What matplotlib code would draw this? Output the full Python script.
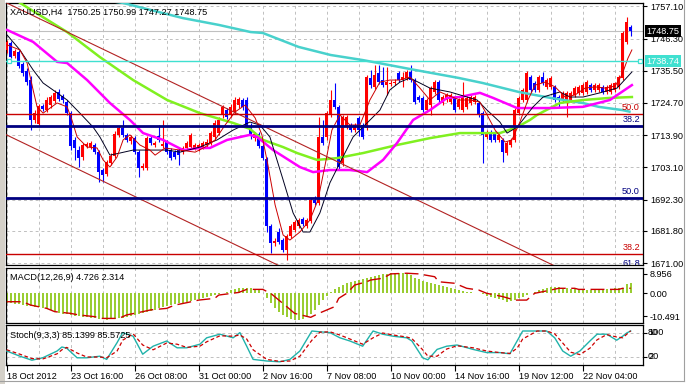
import matplotlib
matplotlib.use('Agg')
import matplotlib.pyplot as plt
from matplotlib.transforms import blended_transform_factory as btf
from matplotlib.lines import Line2D
from matplotlib.patches import Rectangle

plt.rcParams['font.family'] = ['Liberation Sans', 'DejaVu Sans']
FS = 6.6

# ---------------- data ----------------
title = 'XAUUSD,H4  1750.25 1750.99 1747.27 1748.75'
macd_title = 'MACD(12,26,9) 4.726 2.314'
stoch_title = 'Stoch(9,3,3) 85.1399 85.5725'

opens = [1742.5, 1744.8, 1740.5, 1741.8, 1737.8, 1735.4, 1732.4, 1719.0, 1717.7, 1723.7,
         1722.3, 1724.0, 1725.4, 1728.4, 1727.0, 1725.0, 1721.3, 1712.3, 1708.9, 1706.6,
         1710.3, 1709.9, 1710.6, 1708.2, 1702.2, 1700.9, 1704.6, 1706.9, 1714.0, 1716.3,
         1714.0, 1711.9, 1713.0, 1708.2, 1702.9, 1702.9, 1713.0, 1710.6, 1713.6, 1710.3,
         1711.6, 1708.9, 1708.2, 1708.9, 1708.2, 1709.6, 1709.9, 1709.6, 1709.6, 1709.9,
         1710.6, 1711.3, 1713.3, 1714.6, 1720.7, 1722.3, 1720.7, 1721.7, 1724.0, 1725.7,
         1725.7, 1717.0, 1712.9, 1714.3, 1710.3, 1705.9, 1683.4, 1677.7, 1681.4, 1678.7,
         1675.4, 1680.1, 1682.1, 1683.4, 1685.8, 1683.4, 1685.1, 1692.1, 1691.1, 1713.3,
         1713.3, 1720.7, 1725.7, 1723.4, 1704.6, 1716.6, 1717.3, 1715.6, 1719.7, 1717.3,
         1716.3, 1733.1, 1730.1, 1734.8, 1732.4, 1730.7, 1731.1, 1731.4, 1734.8, 1732.4,
         1733.1, 1735.1, 1732.4, 1726.7, 1726.4, 1722.3, 1724.0, 1728.4, 1731.7, 1724.7,
         1725.7, 1725.0, 1726.4, 1723.4, 1722.3, 1723.4, 1724.7, 1725.0, 1724.7, 1721.3,
         1713.3, 1715.0, 1714.6, 1712.3, 1712.3, 1707.9, 1710.6, 1712.3, 1721.3, 1725.7,
         1725.7, 1733.4, 1731.4, 1729.1, 1733.4, 1730.1, 1730.1, 1730.1, 1726.7, 1725.7,
         1725.0, 1725.7, 1727.4, 1728.1, 1728.1, 1728.4, 1730.7, 1729.1, 1729.1, 1730.1,
         1728.4, 1728.4, 1729.1, 1730.1, 1733.1, 1745.2, 1750.25]
highs = [1745.8, 1745.5, 1742.8, 1742.5, 1738.5, 1736.4, 1733.8, 1722.3, 1724.4, 1724.4,
         1726.7, 1727.4, 1729.1, 1729.4, 1727.7, 1725.7, 1722.0, 1713.3, 1710.3, 1711.3,
         1711.6, 1711.9, 1711.3, 1708.9, 1702.9, 1705.6, 1707.9, 1715.3, 1717.0, 1719.0,
         1714.6, 1714.0, 1713.6, 1708.9, 1704.6, 1713.6, 1713.6, 1711.9, 1717.3, 1719.0,
         1712.3, 1709.6, 1708.9, 1709.6, 1710.3, 1711.9, 1714.6, 1711.3, 1711.3, 1711.9,
         1712.6, 1715.3, 1719.0, 1720.0, 1724.0, 1723.0, 1724.4, 1726.7, 1726.7, 1726.4,
         1726.7, 1718.0, 1715.0, 1715.0, 1710.9, 1706.6, 1684.1, 1679.4, 1682.7, 1679.4,
         1680.7, 1684.1, 1685.4, 1686.1, 1686.4, 1686.1, 1692.8, 1693.5, 1720.0, 1719.0,
         1722.0, 1729.1, 1731.4, 1724.0, 1720.7, 1720.7, 1718.0, 1718.0, 1720.3, 1718.0,
         1734.1, 1735.8, 1737.4, 1737.4, 1736.8, 1736.8, 1732.4, 1732.7, 1735.4, 1735.1,
         1735.8, 1737.4, 1733.1, 1727.4, 1727.0, 1726.4, 1730.4, 1732.4, 1732.4, 1727.4,
         1728.1, 1728.1, 1727.0, 1726.4, 1731.7, 1727.0, 1727.4, 1727.4, 1725.4, 1722.0,
         1715.6, 1715.6, 1715.3, 1714.6, 1713.0, 1711.9, 1713.0, 1723.0, 1727.0, 1729.7,
         1735.4, 1734.1, 1732.1, 1734.1, 1735.1, 1733.1, 1733.8, 1730.7, 1727.4, 1728.7,
         1728.7, 1728.7, 1730.4, 1730.7, 1731.4, 1732.4, 1731.4, 1731.4, 1731.4, 1730.7,
         1730.7, 1731.4, 1731.7, 1734.1, 1748.9, 1753.6, 1750.99]
lows = [1741.5, 1739.8, 1739.8, 1736.4, 1733.8, 1730.7, 1715.6, 1718.0, 1717.0, 1722.0,
        1721.7, 1723.0, 1724.7, 1725.4, 1724.7, 1720.7, 1708.9, 1705.6, 1703.2, 1705.6,
        1709.6, 1709.3, 1707.6, 1698.2, 1698.2, 1700.2, 1703.9, 1706.2, 1713.3, 1713.3,
        1711.6, 1710.9, 1707.6, 1699.9, 1702.2, 1702.2, 1710.6, 1709.9, 1711.6, 1709.6,
        1707.6, 1705.6, 1705.9, 1703.9, 1707.6, 1708.9, 1709.3, 1708.9, 1708.6, 1709.3,
        1709.9, 1710.6, 1712.6, 1714.0, 1719.7, 1719.3, 1720.0, 1721.0, 1723.0, 1722.3,
        1716.3, 1712.6, 1711.9, 1709.6, 1705.6, 1681.4, 1674.4, 1676.7, 1677.4, 1674.7,
        1672.0, 1679.4, 1681.4, 1682.7, 1683.4, 1682.7, 1684.4, 1690.5, 1690.5, 1710.6,
        1712.3, 1720.0, 1722.7, 1702.2, 1703.6, 1716.0, 1715.0, 1715.0, 1713.6, 1712.6,
        1715.6, 1729.7, 1729.4, 1731.1, 1730.1, 1727.4, 1730.4, 1730.7, 1731.7, 1730.1,
        1732.4, 1731.7, 1724.4, 1725.0, 1721.7, 1721.7, 1720.7, 1727.7, 1725.0, 1724.0,
        1725.0, 1724.4, 1721.7, 1722.7, 1721.7, 1722.7, 1724.0, 1724.4, 1720.0, 1704.6,
        1712.6, 1711.6, 1711.6, 1711.6, 1704.9, 1707.2, 1709.9, 1711.6, 1720.7, 1725.0,
        1725.0, 1728.4, 1728.4, 1728.4, 1730.7, 1729.4, 1729.4, 1725.0, 1723.4, 1725.0,
        1720.0, 1725.0, 1726.7, 1727.4, 1727.4, 1727.7, 1728.4, 1728.4, 1728.4, 1727.7,
        1727.7, 1727.7, 1728.4, 1729.4, 1732.4, 1744.5, 1747.27]
closes = [1745.2, 1740.1, 1742.1, 1737.1, 1734.8, 1731.7, 1719.0, 1721.3, 1723.7, 1722.7,
          1725.7, 1726.7, 1728.1, 1726.0, 1725.7, 1721.3, 1710.3, 1709.6, 1706.2, 1710.6,
          1710.9, 1711.3, 1708.2, 1701.5, 1700.5, 1704.9, 1706.9, 1714.3, 1716.3, 1714.0,
          1712.3, 1713.3, 1708.2, 1702.9, 1703.6, 1713.0, 1711.3, 1711.3, 1712.3, 1710.9,
          1708.2, 1706.2, 1706.6, 1707.2, 1709.6, 1711.3, 1714.0, 1710.6, 1710.6, 1711.3,
          1711.6, 1714.6, 1718.0, 1719.0, 1723.4, 1720.0, 1723.4, 1725.7, 1726.0, 1723.4,
          1717.0, 1713.6, 1714.3, 1710.3, 1706.2, 1683.4, 1677.7, 1678.4, 1678.1, 1675.4,
          1680.1, 1683.4, 1684.8, 1685.4, 1684.1, 1685.4, 1692.1, 1691.1, 1713.3, 1711.3,
          1721.3, 1725.7, 1723.4, 1703.2, 1720.0, 1720.0, 1715.6, 1717.3, 1715.6, 1713.3,
          1733.4, 1730.7, 1734.1, 1731.7, 1730.7, 1731.7, 1731.4, 1731.7, 1732.4, 1733.4,
          1735.1, 1732.4, 1725.0, 1725.7, 1722.3, 1725.7, 1729.7, 1731.7, 1725.7, 1726.7,
          1727.4, 1727.4, 1722.3, 1725.7, 1727.4, 1726.4, 1726.7, 1726.7, 1720.7, 1714.0,
          1715.0, 1712.3, 1712.3, 1714.0, 1708.2, 1711.3, 1712.3, 1722.3, 1726.4, 1729.1,
          1734.8, 1729.1, 1729.1, 1733.4, 1731.4, 1732.4, 1733.1, 1725.7, 1725.7, 1728.1,
          1728.1, 1728.1, 1729.7, 1730.1, 1730.7, 1731.7, 1729.1, 1730.7, 1730.7, 1728.4,
          1730.1, 1730.7, 1731.4, 1733.4, 1748.2, 1751.9, 1748.75]

# moving averages: (bar, price)
ma_cyan = [(0, 1763.3), (15, 1761.0), (29, 1758.3), (36, 1755.9), (44, 1753.2), (53, 1750.9),
           (61, 1748.5), (64, 1748.2), (73, 1743.5), (81, 1740.8), (89, 1739.1), (93, 1738.1),
           (102, 1735.8), (113, 1733.1), (119, 1731.4), (128, 1728.4), (136, 1726.4),
           (144, 1724.7), (148, 1723.4), (154, 1722.3), (156, 1721.7)]
ma_magenta = [(0.1, 1749.2), (6.6, 1745.2), (12.6, 1738.5), (15.1, 1738.1), (20.1, 1732.4),
              (25.8, 1724.7), (30.8, 1719.0), (34.1, 1714.6), (39.1, 1712.3), (44.1, 1708.9),
              (48.3, 1709.6), (50.8, 1709.6), (55.1, 1712.3), (60.8, 1714.0), (62.6, 1713.3),
              (66.6, 1708.9), (73.3, 1703.2), (76.6, 1701.5), (80.8, 1702.2), (85.8, 1702.2),
              (90.1, 1701.5), (94.1, 1705.6), (97.6, 1711.3), (101.6, 1719.0), (105.8, 1722.3),
              (110.1, 1726.4), (113.3, 1726.7), (118.3, 1728.1), (121.6, 1726.4), (127.6, 1723.0),
              (135.8, 1723.0), (144.1, 1723.4), (150.8, 1725.7), (156.3, 1730.7)]
ma_green = [(0, 1761.6), (3.3, 1758.3), (15.1, 1748.5), (23.3, 1740.1), (31.6, 1732.4),
            (40.1, 1725.7), (48.3, 1721.3), (56.6, 1718.0), (60.8, 1716.0), (64.1, 1712.3),
            (69.1, 1709.9), (72.6, 1707.9), (77.6, 1705.6), (82.6, 1706.2), (89.1, 1707.9),
            (97.6, 1710.6), (105.8, 1712.9), (113.3, 1714.6), (123.3, 1714.6), (127.6, 1716.6),
            (130.8, 1719.0), (132.6, 1720.7), (138.3, 1724.7), (144.1, 1725.7), (150.8, 1726.4),
            (156.3, 1726.7)]
ma_black = [(0.1, 1747.5), (3.3, 1742.5), (6.6, 1735.8), (9.1, 1731.4), (12.6, 1728.1),
            (15.1, 1725.7), (18.3, 1721.3), (21.6, 1716.6), (23.3, 1713.3), (25.8, 1707.2),
            (28.3, 1707.9), (31.6, 1708.9), (35.8, 1708.9), (40.1, 1708.9), (43.3, 1708.2),
            (48.3, 1709.9), (52.6, 1712.3), (56.6, 1715.6), (60.8, 1718.3), (63.3, 1717.3),
            (65.8, 1713.3), (69.1, 1698.9), (71.6, 1687.8), (74.1, 1681.4), (75.8, 1681.4),
            (78.3, 1687.8), (80.8, 1697.9), (83.3, 1704.6), (86.6, 1713.3), (90.1, 1718.0),
            (93.3, 1722.3), (95.8, 1729.1), (98.3, 1731.7), (100.8, 1733.1), (105.8, 1729.7),
            (110.8, 1728.4), (113.3, 1727.4), (117.6, 1725.7), (120.1, 1722.3), (123.3, 1718.3),
            (125.1, 1714.6), (127.6, 1716.6), (131.6, 1723.4), (134.1, 1726.7), (138.3, 1728.4),
            (140.8, 1726.7), (144.1, 1726.7), (148.3, 1728.1), (152.6, 1729.7), (156.3, 1735.1)]
ma_red = [(0.1, 1744.2), (3.3, 1742.5), (5.1, 1738.1), (6.6, 1729.1), (7.6, 1723.4), (9.1, 1721.3),
          (12.6, 1724.7), (15.1, 1723.4), (16.3, 1719.0), (17.6, 1713.3), (20.1, 1709.9),
          (22.6, 1709.6), (24.1, 1705.6), (25.8, 1703.2), (27.6, 1706.6), (29.1, 1712.3),
          (30.8, 1714.0), (33.3, 1710.6), (35.8, 1708.9), (37.1, 1707.2), (39.6, 1709.6),
          (43.3, 1708.9), (47.1, 1708.2), (49.6, 1709.9), (52.1, 1712.3), (54.6, 1717.3),
          (57.1, 1721.7), (59.6, 1724.0), (62.1, 1719.7), (63.8, 1714.0), (65.3, 1703.9),
          (67.1, 1690.5), (69.1, 1680.4), (70.8, 1678.7), (73.3, 1681.4), (75.8, 1685.4),
          (77.8, 1692.1), (79.6, 1703.9), (81.3, 1715.6), (83.3, 1720.7), (85.8, 1717.3),
          (88.3, 1717.3), (90.8, 1725.7), (93.3, 1731.7), (95.8, 1732.4), (98.3, 1732.4),
          (100.8, 1733.4), (103.3, 1729.7), (105.8, 1725.7), (108.3, 1728.4), (110.8, 1727.0),
          (113.3, 1725.7), (115.8, 1725.7), (118.3, 1725.0), (120.1, 1720.7), (122.1, 1715.6),
          (124.6, 1711.6), (126.3, 1712.3), (128.3, 1718.3), (130.3, 1725.7), (132.1, 1730.7),
          (134.6, 1731.7), (137.1, 1730.1), (139.6, 1726.7), (142.1, 1727.4), (144.6, 1729.7),
          (147.1, 1730.1), (149.6, 1729.7), (152.1, 1730.4), (153.8, 1734.1), (155.3, 1739.7),
          (156.3, 1742.5)]

# trend lines (bar, price)
trend_upper = [(-1, 1758.9), (160, 1655.2)]
trend_lower = [(-1, 1714.6), (160, 1610.9)]

# fibonacci levels: (label, price, colour, width)
fib_levels = [('50.0', 1721.0, '#C80000', 1.0), ('38.2', 1717.0, '#000080', 2.0),
              ('50.0', 1692.8, '#000080', 2.0), ('38.2', 1674.0, '#C80000', 1.0),
              ('61.8', 1668.6, '#000080', 2.0)]
level_line = 1738.74
last_price = 1748.75

price_ticks = [1757.10, 1746.30, 1735.50, 1724.70, 1713.90, 1703.10, 1692.30, 1681.80, 1671.00]
date_bars = [0, 16, 32, 48, 64, 80, 96, 112, 128, 144]
date_labels = ['18 Oct 2012', '23 Oct 16:00', '26 Oct 08:00', '31 Oct 00:00', '2 Nov 16:00',
               '7 Nov 08:00', '10 Nov 00:00', '14 Nov 16:00', '19 Nov 12:00', '22 Nov 04:00']

macd_hist = [-4.4, -4.5, -4.7, -5.0, -5.3, -5.6, -6.0, -6.1, -6.2, -6.5,
             -7.0, -7.6, -8.4, -8.9, -9.3, -9.7, -10.0, -10.3, -10.6, -10.8,
             -11.0, -11.2, -11.5, -11.8, -11.9, -12.0, -11.9, -11.7, -11.5, -11.2,
             -10.8, -10.4, -10.0, -9.6, -9.2, -8.6, -8.0, -7.5, -6.9, -6.3,
             -5.8, -5.4, -5.0, -4.6, -4.3, -3.9, -3.5, -3.1, -2.8, -2.3,
             -1.8, -1.3, -0.8, -0.3, 0.2, 0.7, 1.3, 1.8, 2.3, 2.5,
             2.6, 2.6, 2.2, 1.5, 0.2, -2.3, -4.5, -6.5, -8.4, -9.8,
             -11.0, -11.9, -12.2, -12.2, -11.9, -10.8, -9.5, -7.7, -5.5, -3.1,
             -1.2, 0.7, 2.0, 3.0, 3.8, 4.6, 5.2, 5.8, 6.3, 6.7,
             7.0, 7.5, 8.0, 8.4, 8.8, 9.0, 9.2, 9.3, 9.3, 9.2,
             9.0, 8.3, 7.2, 6.5, 5.8, 5.3, 4.9, 4.4, 3.8, 3.3,
             2.8, 2.3, 1.9, 1.5, 1.1, 0.8, 0.5, 0.2, 0.0, -0.5,
             -1.0, -1.5, -2.0, -2.6, -3.2, -3.8, -3.6, -3.1, -2.3, -1.5,
             -0.8, 0.0, 0.8, 1.5, 2.1, 2.6, 3.0, 2.9, 2.7, 2.5,
             2.3, 2.1, 1.8, 1.5, 1.5, 1.5, 1.5, 1.5, 1.5, 1.6,
             1.8, 2.0, 2.3, 2.3, 2.5, 4.2, 4.726]
macd_signal = [(0, -3.85), (4, -3.85), (6, -5.4), (10, -6.9), (12, -8.4), (16, -9.2), (18, -9.9),
               (22, -10.7), (24, -11.5), (28, -11.5), (30, -9.9), (34, -8.4), (36, -7.6), (40, -6.9),
               (42, -5.4), (45, -4.3), (48, -3.1), (52, -2.3), (53, -0.8), (58, 0.4), (60, 1.8),
               (64, 1.8), (66, 0.0), (70, -6.1), (72, -9.2), (76, -11.0), (78, -9.2), (82, -6.1),
               (83, -2.3), (85, 0.0), (87, 3.8), (90, 5.3), (91, 6.1), (94, 6.9), (96, 8.9),
               (100, 9.2), (103, 8.9), (107, 7.6), (108, 5.3), (112, 4.6), (115, 2.3), (118, 1.5),
               (120, 0.0), (124, -1.5), (127, -3.1), (130, -3.1), (132, 0.0), (136, 1.5),
               (138, 2.3), (142, 2.3), (143, 1.8), (153, 1.8), (154, 2.3), (156, 2.314)]
macd_ticks = [8.956, 0.0, -10.491]
macd_tick_labels = ['8.956', '0.00', '-10.491']

stoch_k = [(0, 35), (3.3, 22), (6.3, 12), (9, 18), (12.6, 35), (13.8, 45), (15, 42), (17.6, 18),
           (20, 18), (23.3, 22), (25, 14), (27.6, 56), (29, 81), (31.6, 72), (34, 27), (36.6, 47),
           (40, 60), (42.6, 43), (45, 43), (48.3, 52), (50, 68), (53.3, 77), (56.6, 68), (58.3, 81),
           (60, 47), (61.6, 14), (65, 10), (68.3, 8), (70.8, 14), (73.3, 35), (76.3, 85), (78.3, 83),
           (80.8, 81), (83.3, 68), (85.8, 60), (89, 47), (91.6, 85), (94, 77), (96.6, 72), (100, 68),
           (101.3, 60), (104, 18), (105.3, 13), (107.6, 39), (110, 47), (112.6, 50), (116.6, 39),
           (120, 31), (123.3, 31), (125.8, 28), (127.6, 60), (129, 85), (132.6, 85), (135, 85),
           (137, 68), (139, 35), (141, 22), (143.3, 35), (145.8, 60), (147.6, 77), (150, 77),
           (152.5, 62), (154, 72), (155, 80), (156, 85.14)]
stoch_d = [(0, 38), (3.3, 27), (6.3, 16), (9, 15), (12.6, 28), (13.8, 38), (15, 44), (17.6, 30),
           (20, 20), (23.3, 20), (25, 18), (27.6, 35), (29, 62), (31.6, 78), (34, 50), (36.6, 38),
           (40, 55), (42.6, 52), (45, 44), (48.3, 47), (50, 58), (53.3, 73), (56.6, 72), (58.3, 75),
           (60, 65), (61.6, 38), (65, 14), (68.3, 9), (70.8, 10), (73.3, 22), (76.3, 62), (78.3, 82),
           (80.8, 83), (83.3, 75), (85.8, 65), (89, 52), (91.6, 68), (94, 80), (96.6, 75), (100, 70),
           (101.3, 66), (104, 38), (105.3, 22), (107.6, 22), (110, 40), (112.6, 48), (116.6, 43),
           (120, 35), (123.3, 31), (125.8, 29), (127.6, 42), (129, 65), (132.6, 85), (135, 85),
           (137, 78), (139, 55), (141, 32), (143.3, 26), (145.8, 42), (147.6, 63), (150, 76),
           (152.5, 70), (154, 68), (156, 85.57)]

# ---------------- layout ----------------
W, H = 689, 384
fig = plt.figure(figsize=(W / 100, H / 100), dpi=100)
fig.patch.set_facecolor('white')


def rect(x0, y0, x1, y1):
    return [x0 / W, 1 - y1 / H, (x1 - x0) / W, (y1 - y0) / H]


ax = fig.add_axes(rect(6, 3, 643, 265))
axm = fig.add_axes(rect(6, 268, 643, 323))
axs = fig.add_axes(rect(6, 325, 643, 365))

XMIN, XMAX = -0.175, 159.075
GRID = dict(color='#C0C0C0', lw=0.7, ls=(0, (3, 3)), zorder=0)
LABEL_X = 1 + 5.0 / 637  # where right-hand tick labels begin (axes fraction)

for a in (ax, axm, axs):
    a.set_xlim(XMIN, XMAX)
    for s in a.spines.values():
        s.set_linewidth(0.9)
        s.set_color('black')
    a.yaxis.tick_right()
    a.tick_params(axis='y', direction='out', length=3, width=0.8, pad=2,
                  labelsize=FS, right=True, left=False)
    for b in range(0, 160, 8):
        a.axvline(b, **GRID)
    if a is not axs:
        a.set_xticks([])

# ---- main price panel ----
ax.set_ylim(1670.33, 1758.25)
ax.set_yticks(price_ticks)
ax.set_yticklabels(['%.2f' % p for p in price_ticks])
for p in price_ticks:
    ax.axhline(p, **GRID)
ax.axhline(last_price, color='#C0C0C0', lw=0.8, zorder=1)

n = len(closes)
bars = list(range(n))
cols = ['#FF0000' if closes[i] >= opens[i] else '#0000FF' for i in bars]
ax.vlines(bars, lows, highs, colors=cols, lw=0.8, zorder=3)
bottoms = [min(opens[i], closes[i]) for i in bars]
heights = [max(abs(closes[i] - opens[i]), 0.3) for i in bars]
ax.bar(bars, heights, bottom=bottoms, width=0.75, color=cols, lw=0, zorder=3)


def xy(pts):
    return [p[0] for p in pts], [p[1] for p in pts]


ax.plot(*xy(ma_cyan), color='#48D1CC', lw=1.8, zorder=4, solid_capstyle='butt')
ax.plot(*xy(ma_green), color='#80F020', lw=1.8, zorder=4)
ax.plot(*xy(ma_magenta), color='#FF00FF', lw=1.8, zorder=4)
ax.plot(*xy(ma_black), color='#000020', lw=0.7, zorder=5)
ax.plot(*xy(ma_red), color='#CC0000', lw=0.7, zorder=5)

ax.plot(*xy(trend_upper), color='#B22222', lw=0.8, zorder=5)
ax.plot(*xy(trend_lower), color='#B22222', lw=0.8, zorder=5)

for lab, price, col, lw in fib_levels:
    ax.axhline(price, color=col, lw=lw, zorder=5)
    ax.text(158.3, price + 0.7, lab, color=col, fontsize=FS, ha='right', va='bottom',
            zorder=6, clip_on=True)

ax.axhline(level_line, color='#40E0D0', lw=1.0, zorder=5)
ax.plot([0.6, 158.4], [level_line, level_line], ls='none', marker='s', ms=3.5,
        mfc='white', mec='#40E0D0', mew=0.9, zorder=6, clip_on=False)

tr = btf(ax.transAxes, ax.transData)
ax.text(1.005, last_price, '%.2f' % last_price, transform=tr, fontsize=FS, color='white',
        va='center', ha='left', zorder=10, clip_on=False,
        bbox=dict(boxstyle='square,pad=0.18', fc='black', ec='none'))
ax.text(1.005, level_line, '%.2f' % level_line, transform=tr, fontsize=FS, color='white',
        va='center', ha='left', zorder=10, clip_on=False,
        bbox=dict(boxstyle='square,pad=0.18', fc='#40E0D0', ec='none'))

ax.text(0.0063, 0.966, title, transform=ax.transAxes, fontsize=FS, va='center', ha='left',
        zorder=10)

# ---- MACD panel ----
axm.set_ylim(-13.6, 11.6)
axm.set_yticks(macd_ticks)
axm.set_yticklabels(macd_tick_labels)
axm.bar(bars, macd_hist, width=0.42, color='#9ACD32', lw=0, zorder=2)
axm.plot(*xy(macd_signal), color='#CC0000', lw=1.0, ls=(0, (10, 4)), zorder=3)
axm.text(0.0063, 0.82, macd_title, transform=axm.transAxes, fontsize=FS, va='center',
         ha='left')

# ---- Stochastic panel ----
axs.set_ylim(0, 100)
axs.set_yticks([80, 20])
axs.set_yticklabels([])
axs.axhline(80, **GRID)
axs.axhline(20, **GRID)
trs = btf(axs.transAxes, axs.transData)
# the reference draws 100 over 80 and 0 over 20 at the same spot
for lab, yv in (('100', 80), ('80', 80), ('20', 20), ('0', 20)):
    axs.text(LABEL_X, yv + 1.5, lab, transform=trs, fontsize=FS, va='center', ha='left',
             clip_on=False)
axs.plot(*xy(stoch_k), color='#20B2AA', lw=1.0, zorder=3)
axs.plot(*xy(stoch_d), color='#CC0000', lw=0.9, ls=(0, (3, 2)), zorder=3)
axs.text(0.0063, 0.75, stoch_title, transform=axs.transAxes, fontsize=FS, va='center',
         ha='left')

axs.set_xticks(date_bars)
axs.set_xticklabels(date_labels, ha='left')
axs.tick_params(axis='x', direction='out', length=4, width=0.8, pad=1, labelsize=FS)

# window frame
fig.add_artist(Rectangle((0, 0), 5 / W, 1, transform=fig.transFigure, fc='#D4D0C8',
                         ec='none'))
fig.add_artist(Line2D([683.5 / W, 683.5 / W], [1 - 381 / H, 1], transform=fig.transFigure,
                      color='#A0A0A0', lw=0.8))
fig.add_artist(Line2D([0, 683.5 / W], [1 - 381 / H, 1 - 381 / H], transform=fig.transFigure,
                      color='#A0A0A0', lw=0.8))

fig.savefig('out.png', dpi=100, facecolor=fig.get_facecolor())
